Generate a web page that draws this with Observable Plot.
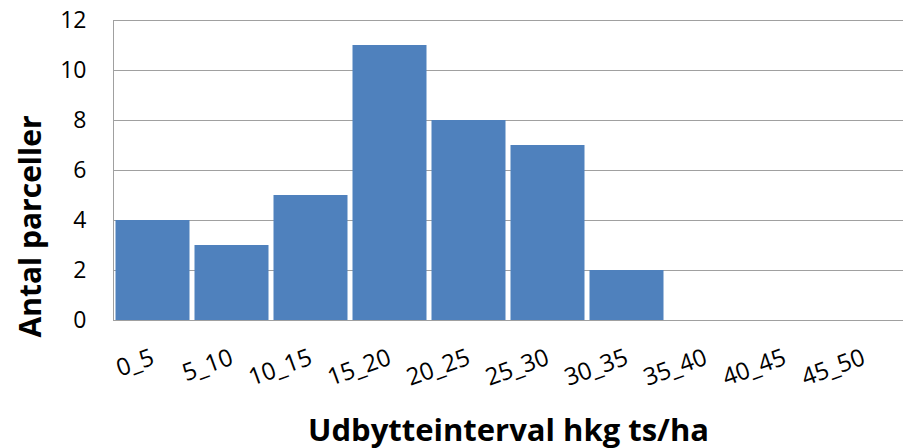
<!DOCTYPE html>
<html><head><meta charset="utf-8">
<script src="https://cdn.jsdelivr.net/npm/d3@7"></script>
<script src="https://cdn.jsdelivr.net/npm/@observablehq/plot@0.6"></script>
<style>body{margin:0;background:#fff} svg{display:block}</style>
</head><body><div id="chart"></div>
<script>
const categories = ["0_5","5_10","10_15","15_20","20_25","25_30","30_35","35_40","40_45","45_50"];
const counts = [4,3,5,11,8,7,2,0,0,0];
const yTicks = [0,2,4,6,8,10,12];
const xTitle = "Udbytteinterval hkg ts/ha";
const yTitle = "Antal parceller";

const data = categories.map((c,i)=>({cat:c, n:counts[i]}));
const font = "'Open Sans', sans-serif";

const chart = Plot.plot({
  width: 911, height: 448,
  marginLeft: 113, marginRight: 8, marginTop: 20, marginBottom: 128,
  style: {fontFamily: font, color: "#000", background: "#fff"},
  x: {domain: categories, padding: 0, label: null},
  y: {domain: [0,12], label: null},
  marks: [
    Plot.gridY(yTicks, {stroke: "#a0a0a0", strokeOpacity: 1, strokeWidth: 1}),
    Plot.barY(data, {x: "cat", y: "n", fill: "#4F81BD", insetLeft: 2.5, insetRight: 2.5}),
    Plot.ruleY([0], {stroke: "#a0a0a0", strokeWidth: 1}),
    Plot.frame({anchor: "left", stroke: "#a0a0a0"}),
    Plot.axisY(yTicks, {tickSize: 0, tickPadding: 27, fontSize: 23, label: null}),
    Plot.axisX({tickRotate: -20, tickSize: 0, tickPadding: 36, fontSize: 24, label: null}),
    Plot.text([xTitle], {frameAnchor: "bottom", dy: 120, fontSize: 31, fontWeight: "bold", fill: "#000"}),
    Plot.text([yTitle], {frameAnchor: "left", textAnchor: "middle", rotate: -90, dx: -82, dy: 56, fontSize: 30, fontWeight: "bold", fill: "#000"})
  ]
});
document.getElementById("chart").appendChild(chart);
</script></body></html>
